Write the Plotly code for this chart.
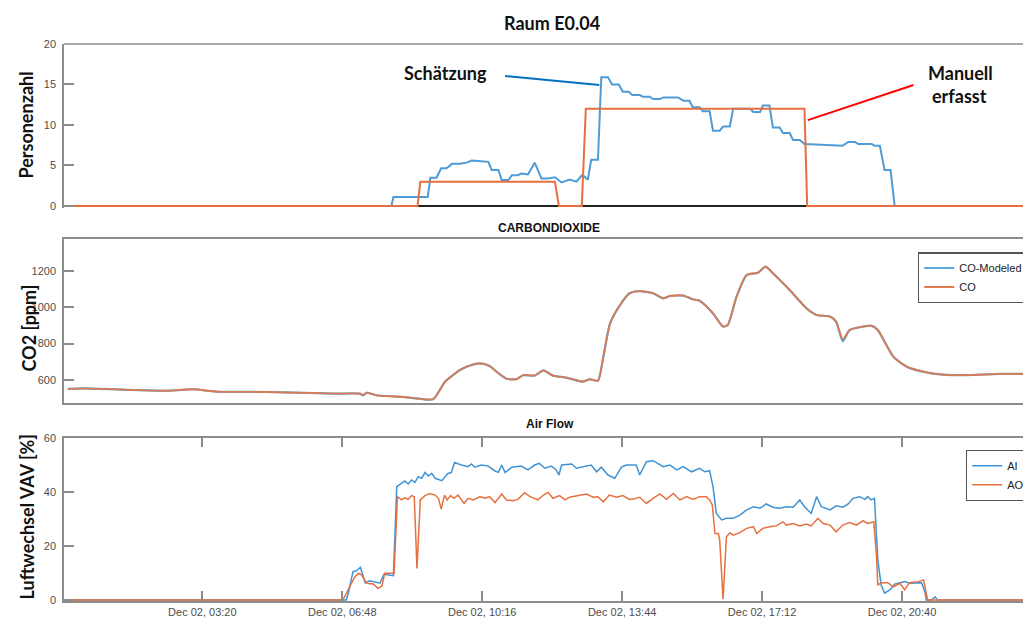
import pandas as pd
import plotly.graph_objects as go

# ---------------- data (minutes after midnight, Dec 02) ----------------
occ_est_min = [-5, 481, 484, 535, 539, 548, 555, 563, 571, 583, 593, 600, 610, 615, 625, 630, 640, 645,
               655, 660, 669, 674, 684, 694, 704, 714, 724, 734, 746, 756, 765, 773, 778, 788, 793, 803,
               809, 819, 825, 834, 839, 850, 855, 865, 870, 880, 885, 907, 915, 924, 929, 939, 944, 954,
               959, 969, 974, 984, 989, 1014, 1019, 1029, 1033, 1043, 1048, 1058, 1063, 1073, 1078, 1088,
               1095, 1152, 1160, 1170, 1175, 1195, 1199, 1207, 1214, 1223, 1229, 1440]
occ_est = [0, 0, 1.1, 1.1, 3.5, 3.5, 4.65, 4.65, 5.2, 5.2, 5.35, 5.6, 5.55, 5.5, 5.45, 4.45, 4.45, 3.2,
           3.2, 3.8, 3.8, 4.0, 3.9, 5.35, 3.4, 3.4, 3.55, 2.9, 3.25, 3.0, 3.85, 3.25, 5.7, 5.7, 15.9, 15.9,
           15.0, 15.0, 14.1, 14.1, 13.7, 13.7, 13.5, 13.5, 13.2, 13.2, 13.4, 13.4, 13.0, 13.0, 12.2, 12.2,
           11.7, 11.7, 9.3, 9.3, 9.8, 9.8, 12.0, 12.0, 11.6, 11.6, 12.4, 12.4, 9.7, 9.7, 9.0, 9.0, 8.15,
           8.15, 7.65, 7.45, 7.9, 7.9, 7.65, 7.65, 7.45, 7.45, 4.45, 4.45, 0, 0]

occ_man_min = [-5, 520, 524, 724, 730, 764, 770, 1095, 1099, 1440]
occ_man = [0, 0, 3, 3, 0, 0, 12, 12, 0, 0]

co2_min = [0, 23, 97, 147, 187, 221, 296, 345, 395, 434, 439, 444, 459, 494, 523, 543, 561, 583, 593,
           613, 627, 637, 652, 667, 677, 694, 707, 721, 741, 766, 776, 788, 796, 806, 821, 835, 850, 870,
           885, 895, 915, 929, 939, 959, 974, 981, 994, 1009, 1026, 1037, 1048, 1073, 1098, 1113, 1133,
           1142, 1152, 1162, 1182, 1194, 1204, 1227, 1247, 1271, 1301, 1336, 1385, 1440]
co2_measured = [551, 554, 545, 541, 549, 536, 534, 530, 525, 525, 516, 530, 516, 508, 497, 494, 591, 655,
                673, 691, 677, 646, 607, 605, 626, 624, 653, 624, 613, 591, 604, 596, 728, 911, 1012, 1076,
                1088, 1076, 1048, 1061, 1063, 1043, 1035, 966, 893, 902, 1057, 1176, 1189, 1222, 1186,
                1094, 993, 957, 948, 920, 823, 874, 893, 898, 874, 728, 673, 646, 629, 627, 633, 633]
co2_modeled = [551, 554, 545, 541, 549, 536, 534, 530, 525, 525, 516, 530, 516, 508, 497, 494, 591, 655,
               673, 691, 677, 646, 607, 605, 626, 624, 653, 624, 613, 591, 604, 596, 726, 909, 1012, 1076,
               1088, 1076, 1048, 1061, 1063, 1043, 1035, 966, 893, 902, 1057, 1176, 1189, 1222, 1186,
               1094, 993, 957, 948, 920, 812, 874, 893, 898, 874, 728, 673, 646, 629, 627, 633, 633]

ai_min = [0, 414, 417, 424, 429, 435, 442, 449, 464, 470, 484, 489, 496, 501, 506, 511, 516, 521, 526,
          531, 536, 541, 546, 556, 565, 570, 575, 585, 595, 600, 605, 615, 625, 635, 640, 645, 650, 660,
          674, 684, 694, 701, 709, 719, 726, 730, 734, 749, 756, 769, 778, 786, 793, 803, 813, 823, 830,
          845, 850, 860, 870, 885, 895, 905, 915, 927, 939, 947, 954, 959, 964, 972, 979, 989, 999, 1009,
          1019, 1029, 1038, 1048, 1058, 1068, 1078, 1088, 1095, 1105, 1113, 1120, 1133, 1142, 1152, 1160,
          1167, 1177, 1185, 1189, 1194, 1199, 1204, 1209, 1214, 1222, 1229, 1237, 1244, 1251, 1261, 1269,
          1274, 1276, 1284, 1289, 1293, 1440]
ai = [0, 0, 2.5, 10.5, 10.8, 12.1, 6.4, 7.1, 6.2, 9.5, 9.0, 41.9, 43.1, 44.0, 42.9, 44.4, 43.5, 45.6, 45.0,
      47.1, 45.8, 46.8, 45.0, 44.1, 46.8, 47.1, 50.8, 49.9, 49.3, 50.3, 49.1, 49.9, 49.5, 47.7, 47.2, 49.9,
      47.1, 49.1, 49.5, 48.1, 49.9, 50.5, 48.7, 49.5, 48.1, 46.2, 49.9, 50.3, 48.7, 49.3, 49.9, 47.4, 49.1,
      46.2, 45.0, 49.1, 49.9, 49.9, 46.2, 51.1, 51.5, 49.3, 49.9, 48.1, 49.3, 47.4, 48.7, 47.4, 47.8, 41.9,
      32.0, 29.6, 30.2, 30.2, 31.4, 33.3, 34.5, 33.9, 35.5, 34.3, 33.9, 34.5, 34.3, 37.0, 34.5, 32.0, 38.2,
      34.5, 33.3, 34.8, 34.3, 35.5, 37.6, 38.2, 37.2, 38.2, 37.0, 37.6, 14.8, 5.5, 2.5, 3.7, 5.9, 6.4, 6.8,
      6.2, 6.4, 6.4, 3.1, 0, 0, 1.2, 0, 0]

ao_min = [0, 409, 419, 427, 432, 437, 444, 454, 461, 467, 471, 485, 490, 496, 501, 506, 511, 515, 519,
          524, 531, 538, 546, 551, 555, 560, 564, 569, 574, 580, 589, 595, 603, 613, 620, 627, 635, 645,
          652, 662, 669, 679, 687, 699, 707, 714, 721, 731, 739, 746, 759, 771, 781, 788, 796, 805, 816,
          825, 835, 840, 850, 860, 870, 880, 890, 900, 910, 920, 929, 939, 949, 954, 958, 962, 967, 969,
          974, 979, 984, 989, 999, 1009, 1019, 1024, 1033, 1043, 1053, 1063, 1068, 1078, 1088, 1098, 1105,
          1115, 1123, 1133, 1142, 1152, 1162, 1172, 1182, 1189, 1198, 1202, 1204, 1209, 1219, 1227, 1237,
          1244, 1251, 1264, 1272, 1278, 1440]
ao = [0, 0, 4.9, 8.6, 9.9, 9.2, 6.2, 5.9, 4.3, 5.2, 9.9, 9.9, 38.2, 37.0, 37.8, 37.2, 38.6, 38.2, 11.7,
      37.0, 38.6, 39.4, 38.8, 37.6, 33.6, 38.8, 37.0, 38.6, 37.6, 38.8, 35.7, 37.6, 37.0, 38.2, 37.6, 38.2,
      36.0, 39.2, 37.0, 36.7, 37.2, 39.7, 38.2, 37.0, 38.8, 39.8, 37.6, 38.6, 37.0, 38.0, 38.6, 39.2, 38.0,
      38.2, 36.3, 38.8, 38.0, 38.6, 37.2, 37.3, 38.0, 35.7, 37.6, 39.2, 37.2, 39.4, 37.0, 38.2, 37.2, 38.2,
      38.2, 37.0, 35.1, 24.6, 24.6, 22.2, 0.3, 23.4, 24.9, 24.0, 24.9, 26.5, 27.1, 24.6, 26.5, 27.1, 27.4,
      28.9, 27.7, 28.3, 27.4, 28.1, 27.4, 30.2, 28.3, 27.7, 25.2, 27.7, 28.6, 27.7, 29.3, 28.3, 28.9, 16.6,
      5.5, 6.4, 6.4, 4.9, 6.2, 3.7, 6.4, 6.8, 7.4, 0, 0]

x_tick_min = [200, 408, 616, 824, 1032, 1240]
x_view_min = [-5.6, 1419.8]

DAY = pd.Timestamp("2019-12-02 00:00")


def at(minutes):
    return [str(DAY + pd.Timedelta(minutes=float(m))) for m in minutes]


# ---------------- styling ----------------
AX_GRAY = "#8c8c8c"
TICK_FONT = dict(family="Liberation Sans, Arial, sans-serif", size=11, color="#4d4d4d")
X_TICK_FONT = dict(family="Liberation Sans, Arial, sans-serif", size=11, color="#4d4d4d")
HEAD_FONT = dict(family="Lato, Open Sans, sans-serif", size=18, color="#111111", weight="bold")
SUB_FONT = dict(family="Liberation Sans, Arial, sans-serif", size=12, color="#111111", weight="bold")
LEG_FONT = dict(family="Liberation Sans, Arial, sans-serif", size=11, color="#222222")

fig = go.Figure()

# panel 1: occupancy
fig.add_trace(go.Scatter(x=at(occ_est_min), y=occ_est, mode="lines", name="Schätzung",
                         line=dict(color="#4f9bd6", width=2), xaxis="x", yaxis="y", showlegend=False))
fig.add_trace(go.Scatter(x=at(occ_man_min), y=occ_man, mode="lines", name="Manuell erfasst",
                         line=dict(color="#e6703f", width=2), xaxis="x", yaxis="y", showlegend=False))

# panel 2: CO2
fig.add_trace(go.Scatter(x=at(co2_min), y=co2_modeled, mode="lines", name="CO-Modeled",
                         line=dict(color="#5ea8df", width=2.2, shape="spline", smoothing=0.6),
                         xaxis="x2", yaxis="y2", legend="legend2"))
fig.add_trace(go.Scatter(x=at(co2_min), y=co2_measured, mode="lines", name="CO",
                         line=dict(color="#dc7a52", width=1.8, shape="spline", smoothing=0.6),
                         xaxis="x2", yaxis="y2", legend="legend2"))

# panel 3: air flow
fig.add_trace(go.Scatter(x=at(ai_min), y=ai, mode="lines", name="AI",
                         line=dict(color="#3f93d4", width=1.5), xaxis="x3", yaxis="y3", legend="legend3"))
fig.add_trace(go.Scatter(x=at(ao_min), y=ao, mode="lines", name="AO",
                         line=dict(color="#e6703f", width=1.5), xaxis="x3", yaxis="y3", legend="legend3"))

x_common = dict(type="date", range=at(x_view_min), showgrid=False, zeroline=False, domain=[0, 1])
y_common = dict(showgrid=False, ticks="inside", ticklen=10, tickwidth=1.5, tickcolor=AX_GRAY,
                showline=True, linecolor=AX_GRAY, linewidth=1.5, tickfont=TICK_FONT,
                ticklabelstandoff=4)

fig.update_layout(
    width=1023, height=621,
    margin=dict(l=64, r=0, t=0, b=0, autoexpand=False),
    paper_bgcolor="white", plot_bgcolor="white",
    xaxis=dict(**x_common, anchor="y", showticklabels=False, ticks="", showline=False),
    yaxis=dict(**y_common, domain=[0.66506, 0.92915], range=[-0.25, 20], tickvals=[0, 5, 10, 15, 20],
               zeroline=True, zerolinecolor="#222222", zerolinewidth=1.5, anchor="x"),
    xaxis2=dict(**x_common, anchor="y2", showticklabels=False, ticks="", showline=True, mirror=True,
                linecolor=AX_GRAY, linewidth=1.5),
    yaxis2=dict(**y_common, domain=[0.35056, 0.61465], range=[472, 1372], tickvals=[600, 800, 1000, 1200],
                zeroline=False, anchor="x2"),
    xaxis3=dict(**x_common, anchor="y3", tickvals=at(x_tick_min), tickformat="%b %d, %H:%M",
                ticks="inside", ticklen=10, tickwidth=1.5, tickcolor=AX_GRAY, showline=True,
                mirror="allticks", linecolor=AX_GRAY, linewidth=1.5, tickfont=X_TICK_FONT),
    yaxis3=dict(**y_common, domain=[0.03205, 0.29517], range=[-0.4, 60], tickvals=[0, 20, 40, 60],
                zeroline=False, anchor="x3"),
    legend2=dict(x=0.8905, y=0.5937, xanchor="left", yanchor="top", bgcolor="white",
                 bordercolor="#555555", borderwidth=1.2, font=LEG_FONT, itemwidth=30, tracegroupgap=0),
    legend3=dict(x=0.9406, y=0.2754, xanchor="left", yanchor="top", bgcolor="white",
                 bordercolor="#555555", borderwidth=1.2, font=LEG_FONT, itemwidth=30, tracegroupgap=0),
    showlegend=True,
)

# top border of the occupancy panel
fig.add_shape(type="line", xref="x domain", yref="y domain", x0=0, x1=1, y0=1, y1=1,
              line=dict(color=AX_GRAY, width=1.5))

# callout lines in the occupancy panel
fig.add_shape(type="line", xref="x", yref="y", x0=at([650])[0], y0=16.05, x1=at([790])[0], y1=14.94,
              line=dict(color="#0070C0", width=2))
fig.add_shape(type="line", xref="x", yref="y", x0=at([1257])[0], y0=14.94, x1=at([1100])[0], y1=10.6,
              line=dict(color="#FF0000", width=2))

annotations = [
    dict(text="Raum E0.04", xref="paper", yref="paper", x=0.5089, y=0.9634, font=HEAD_FONT),
    dict(text="CARBONDIOXIDE", xref="paper", yref="paper", x=0.5057, y=0.6329, font=SUB_FONT),
    dict(text="Air Flow", xref="paper", yref="paper", x=0.5068, y=0.3172, font=SUB_FONT),
    dict(text="Personenzahl", xref="paper", yref="paper", x=-0.0401, y=0.7987, textangle=-90, font=HEAD_FONT),
    dict(text="CO2 [ppm]", xref="paper", yref="paper", x=-0.0370, y=0.4718, textangle=-90, font=HEAD_FONT),
    dict(text="Luftwechsel VAV [%]", xref="paper", yref="paper", x=-0.0391, y=0.1675, textangle=-90,
         font=HEAD_FONT),
    dict(text="Schätzung", xref="x", yref="y", x=at([562])[0], y=16.36, font=HEAD_FONT),
    dict(text="Manuell", xref="x", yref="y", x=at([1327])[0], y=16.48, font=HEAD_FONT),
    dict(text="erfasst", xref="x", yref="y", x=at([1326])[0], y=13.64, font=HEAD_FONT),
]
for a in annotations:
    fig.add_annotation(showarrow=False, xanchor="center", yanchor="middle", **a)

fig.write_html("out.html")
